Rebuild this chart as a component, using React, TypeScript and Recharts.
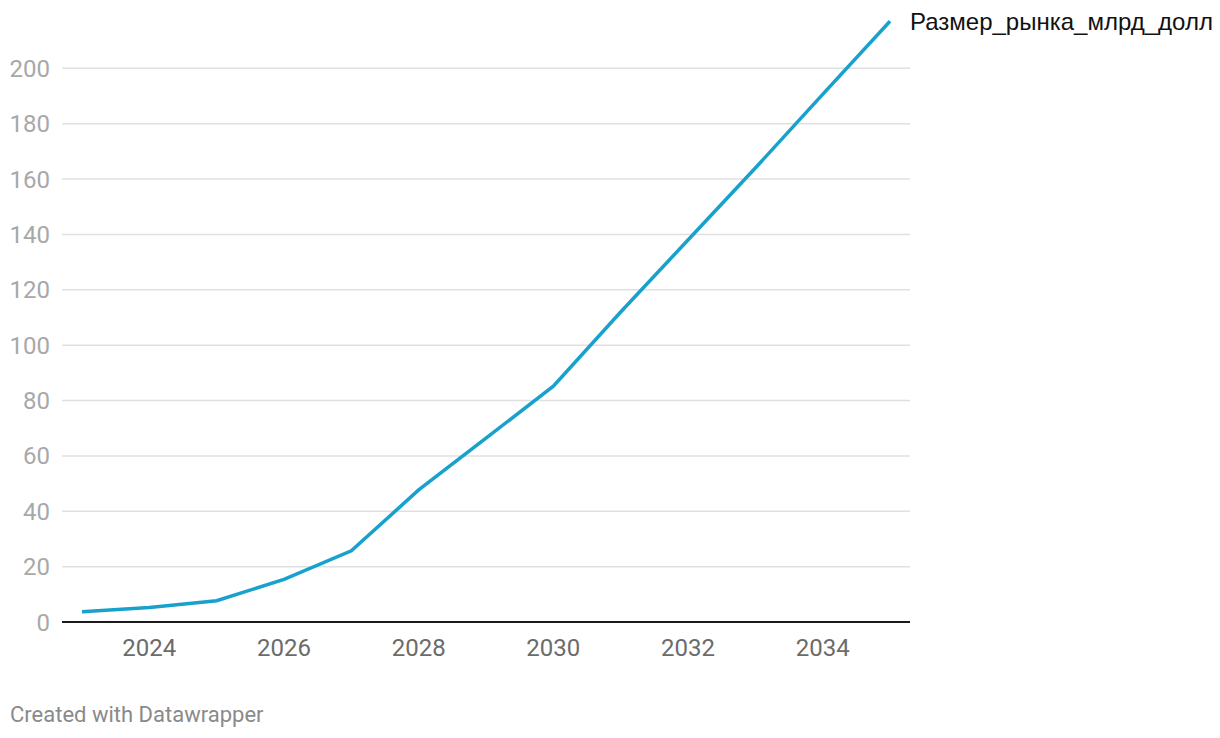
import { CartesianGrid, Line, LineChart, XAxis, YAxis } from "recharts";

const years = [2023, 2024, 2025, 2026, 2027, 2028, 2029, 2030, 2031, 2032, 2033, 2034, 2035];
const marketSize = [3.7, 5.2, 7.7, 15.4, 25.7, 47.7, 66.4, 85.2, 112, 138, 164, 190.6, 217];
const xTicks = [2024, 2026, 2028, 2030, 2032, 2034];
const yTicks = [0, 20, 40, 60, 80, 100, 120, 140, 160, 180, 200];
const seriesName = "Размер_рынка_млрд_долл";

const data = years.map((year, i) => ({ year, value: marketSize[i] }));

const FONT = "Roboto, 'Noto Sans', sans-serif";

function EndLabel(props: any) {
  const { x, y, index } = props;
  if (index !== data.length - 1) return null;
  return (
    <text
      x={x + 20}
      y={y}
      dy="0.355em"
      fill="#111"
      fontSize={24}
      fontFamily="'Liberation Sans', Arial, sans-serif"
    >
      {seriesName}
    </text>
  );
}

export default function App() {
  return (
    <div style={{ position: "absolute", left: 0, top: 0, width: 1220, height: 738, background: "#fff" }}>
      <LineChart
        width={1220}
        height={738}
        data={data}
        margin={{ top: 13, right: 310, bottom: 86, left: 4 }}
      >
        <CartesianGrid
          vertical={false}
          horizontalValues={yTicks.slice(1)}
          stroke="#e0e0e0"
          strokeWidth={1.5}
        />
        <XAxis
          dataKey="year"
          type="number"
          domain={[2023, 2035]}
          ticks={xTicks}
          padding={{ left: 20, right: 20 }}
          tickLine={false}
          tickSize={0}
          tickMargin={17}
          height={30}
          axisLine={{ stroke: "#1a1a1a", strokeWidth: 2 }}
          tick={{ fill: "#6b6b6b", fontSize: 24, fontFamily: FONT }}
        />
        <YAxis
          type="number"
          domain={[0, 220]}
          ticks={yTicks}
          width={58}
          axisLine={false}
          tickLine={false}
          tickSize={0}
          tickMargin={12}
          tick={{ fill: "#a8a8a8", fontSize: 24, fontFamily: FONT }}
        />
        <Line
          type="linear"
          dataKey="value"
          stroke="#18a1cd"
          strokeWidth={3.5}
          dot={false}
          activeDot={false}
          isAnimationActive={false}
          label={<EndLabel />}
        />
      </LineChart>
      <div
        style={{
          position: "absolute",
          left: 10,
          top: 702,
          fontFamily: FONT,
          fontSize: 22,
          color: "#8a8a8a",
        }}
      >
        Created with Datawrapper
      </div>
    </div>
  );
}
